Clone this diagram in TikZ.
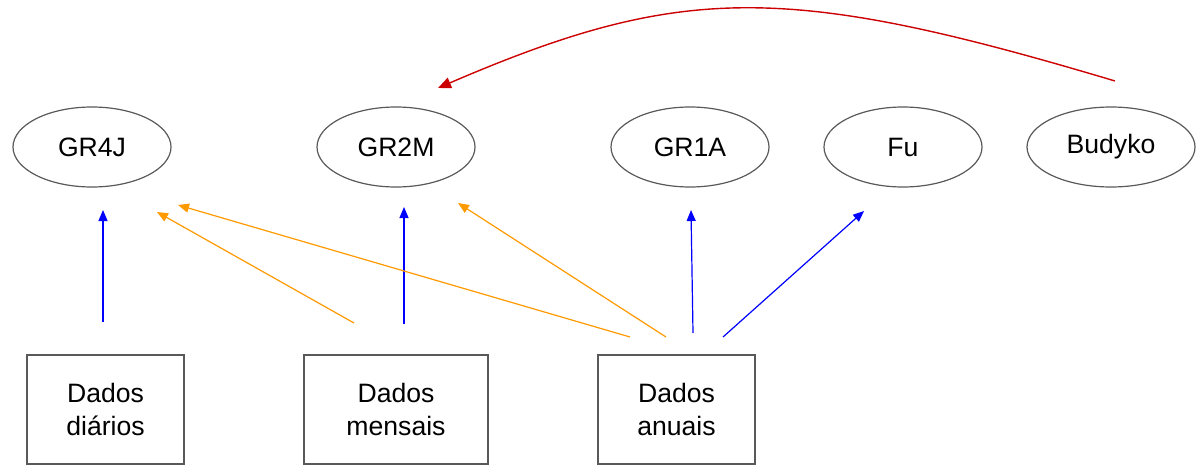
\documentclass[tikz,border=0pt]{standalone}
\usepackage{fontspec}
\setmainfont{Liberation Sans}
\usetikzlibrary{arrows.meta,shapes.geometric}
\definecolor{laranja}{RGB}{255,153,0}
\definecolor{vermelho}{RGB}{204,0,0}

\begin{document}
\begin{tikzpicture}[x=0.5pt,y=-0.5pt,
  model/.style={ellipse,draw=black!65,line width=0.6pt,
                minimum width=79pt,minimum height=40pt,inner sep=0pt,
                font=\fontsize{13.3}{16.5}\selectfont},
  dados/.style={rectangle,draw=black!65,line width=0.6pt,
                minimum width=78.5pt,minimum height=54.5pt,
                align=center,font=\fontsize{13.3}{16.5}\selectfont},
  barrow/.style={-{Triangle[length=5.5pt,width=4.5pt]},blue,line width=0.6pt},
  oarrow/.style={-{Triangle[length=5.5pt,width=4.5pt]},laranja,line width=0.6pt},
  rarrow/.style={-{Triangle[length=6.5pt,width=5.5pt]},vermelho,line width=0.7pt}
]
\useasboundingbox (0,0) rectangle (1197,465);

% modelos
\node[model] (gr4j)   at (92,147)   {GR4J};
\node[model] (gr2m)   at (396,147)  {GR2M};
\node[model] (gr1a)   at (690,147)  {GR1A};
\node[model] (fu)     at (903,147)  {Fu};
\node[model,minimum width=84pt] (budyko) at (1111,147) {Budyko};

% dados
\node[dados] (diarios) at (105.5,409.5) {Dados\\di\'arios};
\node[dados,minimum width=92pt] (mensais) at (396,409.5) {Dados\\mensais};
\node[dados] (anuais)  at (676.5,409.5) {Dados\\anuais};

% pontas das setas
\coordinate (d1) at (103,322);  \coordinate (g1) at (103,210);
\coordinate (m1) at (354,323);  \coordinate (g2) at (157,212);
\coordinate (m2) at (404,324);  \coordinate (g3) at (404,207);
\coordinate (a1) at (630,337);  \coordinate (g4) at (178,205);
\coordinate (a2) at (666,337);  \coordinate (g5) at (458,203);
\coordinate (a3) at (693,333);  \coordinate (g6) at (691,210);
\coordinate (a4) at (723,337);  \coordinate (g7) at (864,211);
\coordinate (b1) at (1115,81);  \coordinate (g8) at (438,88);

\draw[barrow] (d1) -- (g1);
\draw[oarrow] (m1) -- (g2);
\draw[barrow] (m2) -- (g3);
\draw[oarrow] (a1) -- (g4);
\draw[oarrow] (a2) -- (g5);
\draw[barrow] (a3) -- (g6);
\draw[barrow] (a4) -- (g7);
\draw[rarrow] (b1) .. controls (787,-17) and (682,-17) .. (g8);
\end{tikzpicture}
\end{document}
